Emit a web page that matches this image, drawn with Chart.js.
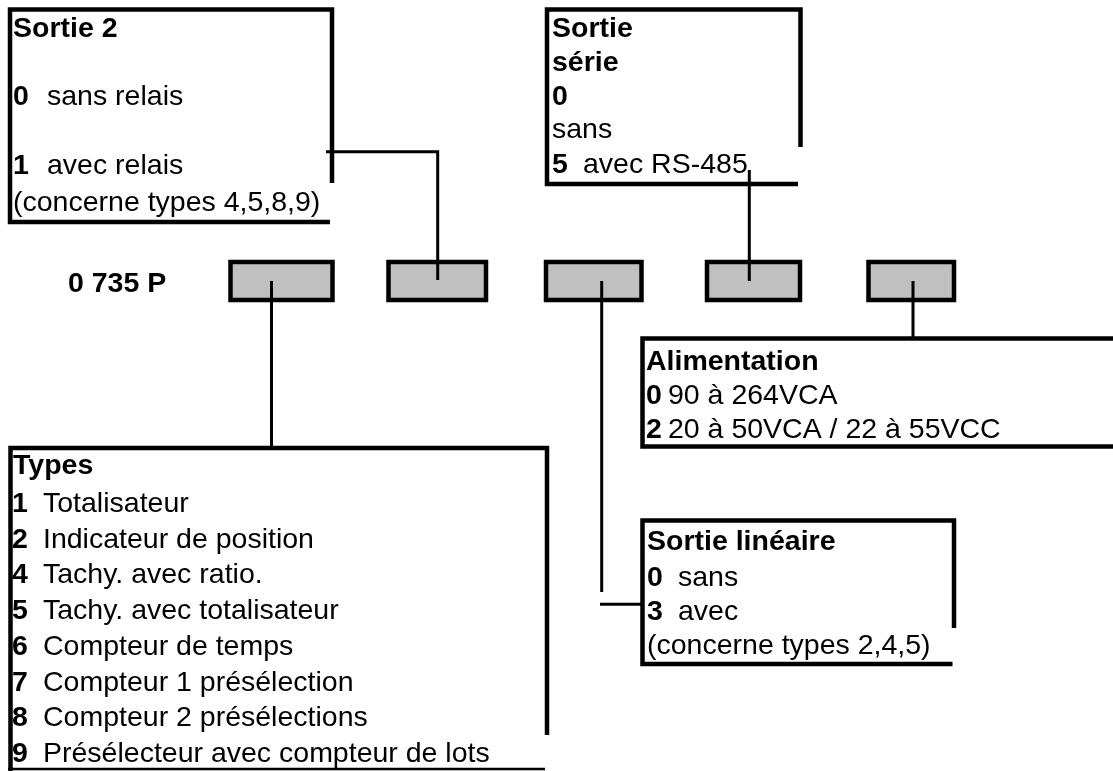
<!DOCTYPE html>
<html lang="fr">
<head>
<meta charset="utf-8">
<title>0 735 P - codification</title>
<script src="https://cdn.jsdelivr.net/npm/chart.js@4.4.1/dist/chart.umd.min.js"></script>
<style>
html, body { margin: 0; padding: 0; background: #fff; }
#wrap { width: 1113px; height: 771px; }
</style>
</head>
<body>
<div id="wrap"><canvas id="codeChart" width="1113" height="771"></canvas></div>
<script>
// diagram units = picture pixels, y grows downward
const sheetWidth = 1113;
const sheetHeight = 771;

// grey code slots after "0 735 P": [left, right]
const slotEdges = [[230.5, 332.5], [388.5, 486], [546, 641.5], [707, 800], [868.5, 954]];
const slotTop = 262;
const slotBottom = 300;

// option boxes, drawn as open outlines like the original
const boxOutlines = [
  [[332, 183], [332, 9.5], [10, 9.5], [10, 222], [330, 222]],          // Sortie 2
  [[800.5, 147], [800.5, 9.5], [547, 9.5], [547, 184], [798, 184]],    // Sortie série
  [[1113, 338.5], [642.5, 338.5], [642.5, 446.5], [1113, 446.5]],      // Alimentation
  [[547, 735], [547, 448], [10.5, 448], [10.5, 771]],                  // Types
  [[954, 628], [954, 520.5], [642.5, 520.5], [642.5, 664], [952.5, 664]] // Sortie linéaire
];
const thinRules = [
  [[8, 769], [545, 769]]   // under "Types"
];

// leader lines from slots to boxes
const leaders = [
  [[271.5, 281], [271.5, 448]],
  [[326, 151.7], [437.7, 151.7], [437.7, 280]],
  [[601.7, 281], [601.7, 592]],
  [[600, 604.3], [641, 604.3]],
  [[749.3, 170], [749.3, 281]],
  [[913, 281], [913, 338]]
];

// text rows: [x, baseline, bold part, regular part, indent of regular part]
const textRows = [
  [13, 37, "Sortie 2", "", 0],
  [13, 105, "0", "sans relais", 34],
  [13, 174, "1", "avec relais", 34],
  [13, 211, "", "(concerne types 4,5,8,9)", 0],
  [552, 37, "Sortie", "", 0],
  [552, 71, "série", "", 0],
  [552, 105, "0", "", 0],
  [552, 138, "", "sans", 0],
  [552, 173, "5", "avec RS-485", 31],
  [68, 292, "0 735 P", "", 0],
  [646, 370, "Alimentation", "", 0],
  [646, 404, "0", "90 à 264VCA", 22],
  [646, 438, "2", "20 à 50VCA / 22 à 55VCC", 22],
  [13, 474, "Types", "", 0],
  [12, 512, "1", "Totalisateur", 31],
  [12, 547.7, "2", "Indicateur de position", 31],
  [12, 583.4, "4", "Tachy. avec ratio.", 31],
  [12, 619.1, "5", "Tachy. avec totalisateur", 31],
  [12, 654.8, "6", "Compteur de temps", 31],
  [12, 690.5, "7", "Compteur 1 présélection", 31],
  [12, 726.2, "8", "Compteur 2 présélections", 31],
  [12, 761.5, "9", "Présélecteur avec compteur de lots", 31],
  [647, 550, "Sortie linéaire", "", 0],
  [647, 586, "0", "sans", 31],
  [647, 620, "3", "avec", 31],
  [647, 654, "", "(concerne types 2,4,5)", 0]
];

const fontFamily = "'Liberation Sans', Arial, Helvetica, sans-serif";
const fontSize = 28.5;

const toPoints = arr => arr.map(p => ({x: p[0], y: p[1]}));

const datasets = [];

slotEdges.forEach(e => {
  // grey fill
  datasets.push({
    data: toPoints([[e[0], slotTop], [e[1], slotTop]]),
    showLine: true, pointRadius: 0, borderWidth: 0,
    backgroundColor: "#c0c0c0", fill: {value: slotBottom}, order: 3
  });
  // black frame
  datasets.push({
    data: toPoints([[e[0], slotTop], [e[1], slotTop], [e[1], slotBottom], [e[0], slotBottom], [e[0], slotTop], [e[1], slotTop]]),
    showLine: true, pointRadius: 0, borderWidth: 4.5, borderColor: "#000", fill: false, order: 2
  });
});

boxOutlines.forEach(o => {
  datasets.push({
    data: toPoints(o), showLine: true, pointRadius: 0,
    borderWidth: 4.5, borderColor: "#000", fill: false, order: 2
  });
});

thinRules.forEach(o => {
  datasets.push({
    data: toPoints(o), showLine: true, pointRadius: 0,
    borderWidth: 2.5, borderColor: "#000", fill: false, order: 2
  });
});

leaders.forEach(o => {
  datasets.push({
    data: toPoints(o), showLine: true, pointRadius: 0,
    borderWidth: 3, borderColor: "#000", fill: false, order: 1
  });
});

const textPlugin = {
  id: "boxText",
  afterDatasetsDraw(chart) {
    const ctx = chart.ctx;
    const xs = chart.scales.x, ys = chart.scales.y;
    ctx.save();
    ctx.fillStyle = "#000";
    ctx.textBaseline = "alphabetic";
    ctx.textAlign = "left";
    textRows.forEach(r => {
      const px = xs.getPixelForValue(r[0]);
      const py = ys.getPixelForValue(r[1]);
      if (r[2]) {
        ctx.font = "bold " + fontSize + "px " + fontFamily;
        ctx.fillText(r[2], px, py);
      }
      if (r[3]) {
        ctx.font = fontSize + "px " + fontFamily;
        ctx.fillText(r[3], xs.getPixelForValue(r[0] + r[4]), py);
      }
    });
    ctx.restore();
  }
};

new Chart(document.getElementById("codeChart"), {
  type: "scatter",
  data: { datasets: datasets },
  options: {
    responsive: false,
    maintainAspectRatio: false,
    devicePixelRatio: 1,
    animation: false,
    layout: { padding: 0 },
    elements: { line: { tension: 0, borderJoinStyle: "miter", borderCapStyle: "butt" } },
    scales: {
      x: { type: "linear", min: 0, max: sheetWidth, display: false },
      y: { type: "linear", min: 0, max: sheetHeight, reverse: true, display: false }
    },
    plugins: {
      legend: { display: false },
      tooltip: { enabled: false }
    }
  },
  plugins: [textPlugin]
});
</script>
</body>
</html>
